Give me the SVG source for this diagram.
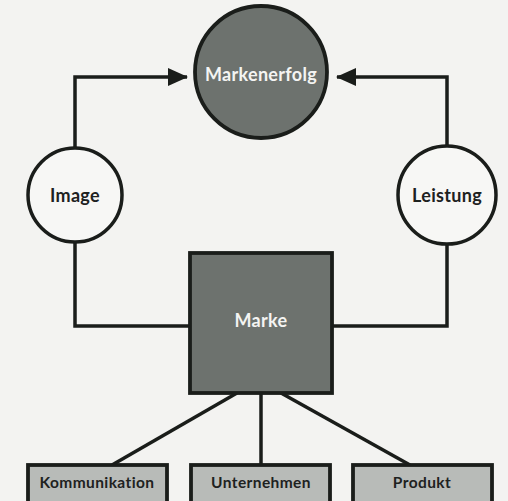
<svg xmlns="http://www.w3.org/2000/svg" width="508" height="501" viewBox="0 0 508 501">
<defs>
<marker id="arr" viewBox="0 0 20 18" refX="19" refY="9" markerWidth="20" markerHeight="18" markerUnits="userSpaceOnUse" orient="auto">
<path d="M0,0 L20,9 L0,18 Z" fill="#1a1d1a"/>
</marker>
<style>
.ln{fill:none;stroke:#1a1d1a;stroke-width:3.5}
.dk{fill:#6d726e;stroke:#1a1d1a;stroke-width:3.8}
.wh{fill:#f7f7f5;stroke:#1a1d1a;stroke-width:3.5}
.lt{fill:#b8bbb8;stroke:#1a1d1a;stroke-width:3.8}
.tw{font-family:Lato,"Open Sans",sans-serif;font-weight:bold;font-size:18px;letter-spacing:0.3px;fill:#f4f4f2;text-anchor:middle}
.tb{font-family:Lato,"Open Sans",sans-serif;font-weight:bold;font-size:18px;letter-spacing:0.3px;fill:#1e221f;text-anchor:middle}
.ts{font-family:Lato,"Open Sans",sans-serif;font-weight:bold;font-size:15.5px;letter-spacing:0.4px;fill:#1e221f;text-anchor:middle}
</style>
</defs>
<rect width="508" height="501" fill="#f3f3f1"/>
<g id="connectors">
<path class="ln" d="M75,150 V77 H187" marker-end="url(#arr)"/>
<path class="ln" d="M447,150 V77 H337" marker-end="url(#arr)"/>
<path class="ln" d="M75,240 V326 H190"/>
<path class="ln" d="M447,240 V326 H332"/>
<path class="ln" d="M237,393 L112,465"/>
<path class="ln" d="M261,393 V465"/>
<path class="ln" d="M281,393 L410,465"/>
</g>
<g id="markenerfolg">
<circle class="dk" cx="261" cy="72" r="66"/>
<text class="tw" x="261" y="81">Markenerfolg</text>
</g>
<g id="image">
<circle class="wh" cx="75" cy="195" r="47"/>
<text class="tb" x="75" y="202">Image</text>
</g>
<g id="leistung">
<circle class="wh" cx="447" cy="195" r="49"/>
<text class="tb" x="447" y="202">Leistung</text>
</g>
<g id="marke">
<rect class="dk" x="190" y="253" width="142" height="140"/>
<text class="tw" x="261" y="327">Marke</text>
</g>
<g id="kommunikation">
<rect class="lt" x="28" y="465" width="139" height="40"/>
<text class="ts" x="97" y="488">Kommunikation</text>
</g>
<g id="unternehmen">
<rect class="lt" x="191" y="465" width="139" height="40"/>
<text class="ts" x="261" y="488">Unternehmen</text>
</g>
<g id="produkt">
<rect class="lt" x="353" y="465" width="139" height="40"/>
<text class="ts" x="422" y="488">Produkt</text>
</g>
</svg>
